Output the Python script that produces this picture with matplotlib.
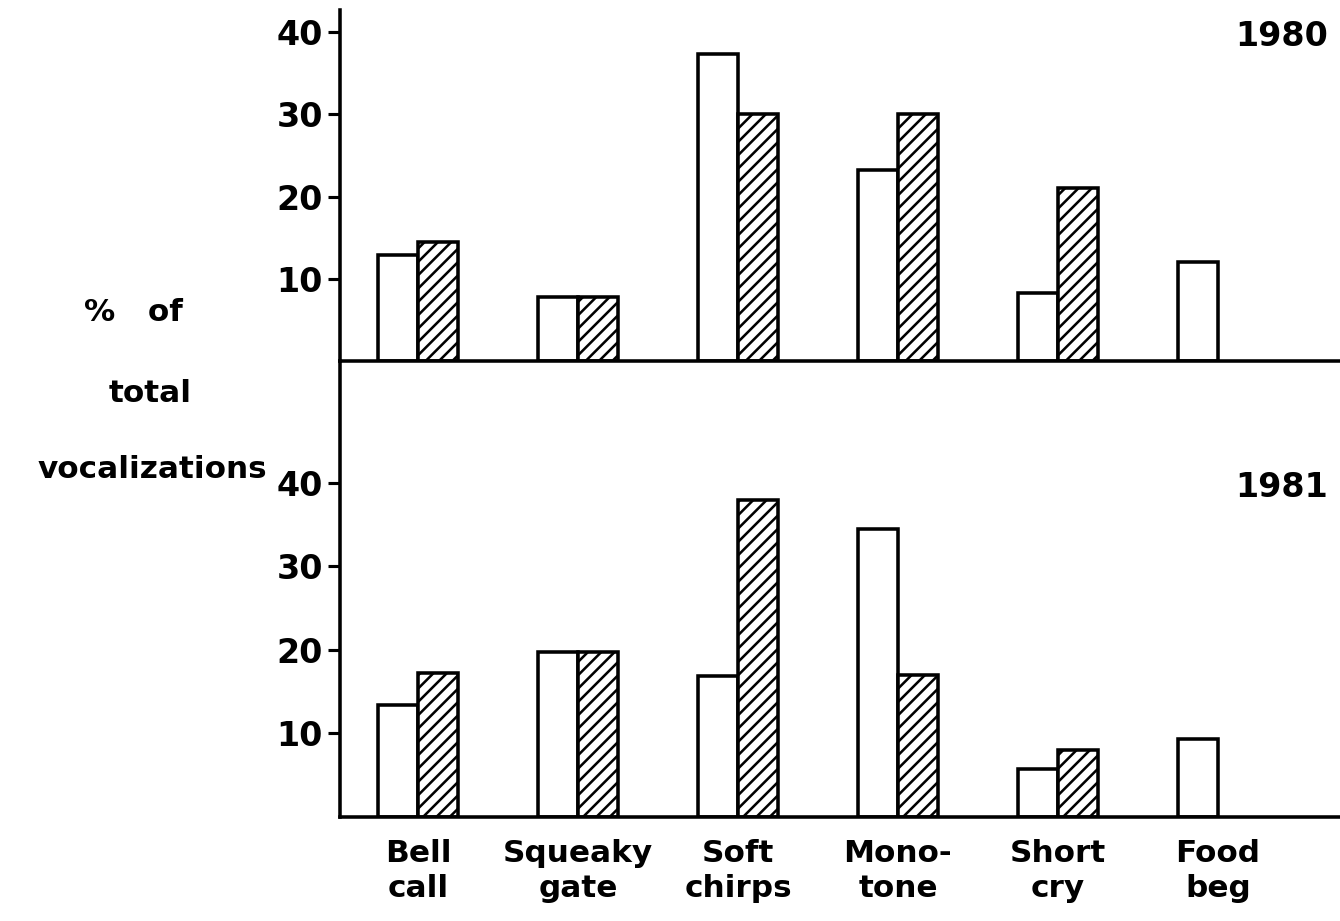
import numpy as np
import matplotlib
matplotlib.use("Agg")
import matplotlib.pyplot as plt

# vocalization types, two bars per type (open and hatched), one panel per year
categories = ["Bell\ncall", "Squeaky\ngate", "Soft\nchirps", "Mono-\ntone", "Short\ncry", "Food\nbeg"]
open_1980 = [12.9, 7.8, 37.4, 23.2, 8.3, 12.0]
hatched_1980 = [14.5, 7.8, 30.0, 30.0, 21.0, np.nan]
open_1981 = [13.4, 19.8, 16.9, 34.5, 5.7, 9.3]
hatched_1981 = [17.2, 19.8, 38.0, 17.0, 8.0, np.nan]
years = ["1980", "1981"]
yticks = [10, 20, 30, 40]

plt.rcParams["font.family"] = "DejaVu Sans"
plt.rcParams["font.weight"] = "bold"
plt.rcParams["hatch.linewidth"] = 2.3

W, H = 1340, 921
fig = plt.figure(figsize=(W / 80, H / 80), dpi=80)
ax_top = fig.add_axes([340 / W, 1 - 361 / H, 1000 / W, 351 / H])
ax_bot = fig.add_axes([340 / W, 1 - 817 / H, 1000 / W, 456 / H])
# keep the lower panel's background from covering the upper baseline
ax_bot.patch.set_visible(False)
ax_top.set_zorder(2)

x = np.arange(len(categories))
width = 0.25
panels = [
    (ax_top, open_1980, hatched_1980, years[0], 42.7),
    (ax_bot, open_1981, hatched_1981, years[1], 54.6),
]
for ax, opn, hat, year, ytop in panels:
    hat = np.array(hat)
    ax.bar(x - width / 2, opn, width, facecolor="white", edgecolor="black",
           linewidth=3.2)
    m = ~np.isnan(hat)
    ax.bar(x[m] + width / 2, hat[m], width, facecolor="white", edgecolor="black",
           linewidth=3.2, hatch="//")
    ax.set_xlim(-0.4875, 5.7625)
    ax.set_ylim(0, ytop)
    ax.set_yticks(yticks)
    for s in ["top", "right"]:
        ax.spines[s].set_visible(False)
    for s in ["left", "bottom"]:
        ax.spines[s].set_linewidth(3.2)
    ax.tick_params(axis="y", length=10.5, width=2.8, pad=5, labelsize=30)
    ax.text(5.4, 39.5, year, ha="center", va="center", fontsize=30)

ax_top.patch.set_visible(False)
ax_top.set_xticks([])
ax_bot.set_xticks(x)
ax_bot.set_xticklabels(categories, linespacing=1.25)
ax_bot.tick_params(axis="x", length=0, pad=20, labelsize=28)

# y label written as three separate centred lines
fig.text(133 / W, 1 - 313 / H, "%   of", ha="center", va="center", fontsize=28)
fig.text(150 / W, 1 - 393 / H, "total", ha="center", va="center", fontsize=28)
fig.text(152 / W, 1 - 470 / H, "vocalizations", ha="center", va="center", fontsize=28)

fig.savefig("out.png", dpi=80)
